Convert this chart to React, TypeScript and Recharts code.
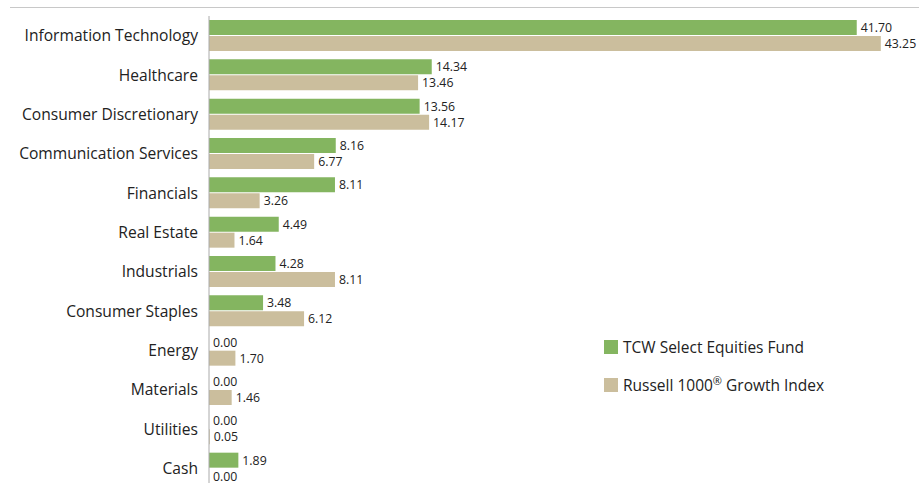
import { BarChart, Bar, XAxis, YAxis, LabelList } from "recharts";

const categories = [
  "Information Technology",
  "Healthcare",
  "Consumer Discretionary",
  "Communication Services",
  "Financials",
  "Real Estate",
  "Industrials",
  "Consumer Staples",
  "Energy",
  "Materials",
  "Utilities",
  "Cash",
];
const fundValues = [41.7, 14.34, 13.56, 8.16, 8.11, 4.49, 4.28, 3.48, 0.0, 0.0, 0.0, 1.89];
const indexValues = [43.25, 13.46, 14.17, 6.77, 3.26, 1.64, 8.11, 6.12, 1.7, 1.46, 0.05, 0.0];

const FUND_COLOR = "#84b560";
const INDEX_COLOR = "#cbbe9d";
const FONT = "'Open Sans', sans-serif";

const data = categories.map((name, i) => ({
  name,
  fund: fundValues[i],
  index: indexValues[i],
}));

const fmt = (v: number) => Number(v).toFixed(2);

export default function App() {
  return (
    <div
      style={{
        position: "absolute",
        left: 0,
        top: 0,
        width: 919,
        height: 483,
        overflow: "hidden",
        background: "#fff",
        fontFamily: FONT,
      }}
    >
      <div style={{ position: "absolute", left: 10, top: 7, width: 909, height: 1, background: "#c8c8c8" }} />
      <div style={{ position: "absolute", left: 0, top: 0 }}>
        <BarChart
          width={919}
          height={500}
          data={data}
          layout="vertical"
          margin={{ top: 16, right: 11, bottom: 12, left: 8 }}
          barSize={15}
          barGap={1}
        >
          <XAxis type="number" domain={[0, 45]} hide />
          <YAxis
            type="category"
            dataKey="name"
            width={201}
            tickLine={false}
            tickMargin={5}
            axisLine={{ stroke: "#aaaaaa" }}
            interval={0}
            tick={{ fontSize: 15.6, fill: "#222", fontFamily: FONT }}
          />
          <Bar dataKey="fund" fill={FUND_COLOR} minPointSize={0.01} isAnimationActive={false}>
            <LabelList
              dataKey="fund"
              position="right"
              offset={4}
              formatter={fmt}
              style={{ fontSize: 12.3, fill: "#222", fontFamily: FONT }}
            />
          </Bar>
          <Bar dataKey="index" fill={INDEX_COLOR} minPointSize={0.01} isAnimationActive={false}>
            <LabelList
              dataKey="index"
              position="right"
              offset={4}
              formatter={fmt}
              style={{ fontSize: 12.3, fill: "#222", fontFamily: FONT }}
            />
          </Bar>
        </BarChart>
      </div>
      <div style={{ position: "absolute", left: 604, top: 338, fontSize: 15.5, color: "#222" }}>
        <div style={{ display: "flex", alignItems: "center", height: 18 }}>
          <span style={{ width: 14, height: 14, background: FUND_COLOR, marginRight: 5 }} />
          <span>TCW Select Equities Fund</span>
        </div>
        <div style={{ display: "flex", alignItems: "center", height: 18, marginTop: 20 }}>
          <span style={{ width: 14, height: 14, background: INDEX_COLOR, marginRight: 5 }} />
          <span>
            Russell 1000<sup style={{ fontSize: 11, lineHeight: 0 }}>®</sup> Growth Index
          </span>
        </div>
      </div>
    </div>
  );
}
